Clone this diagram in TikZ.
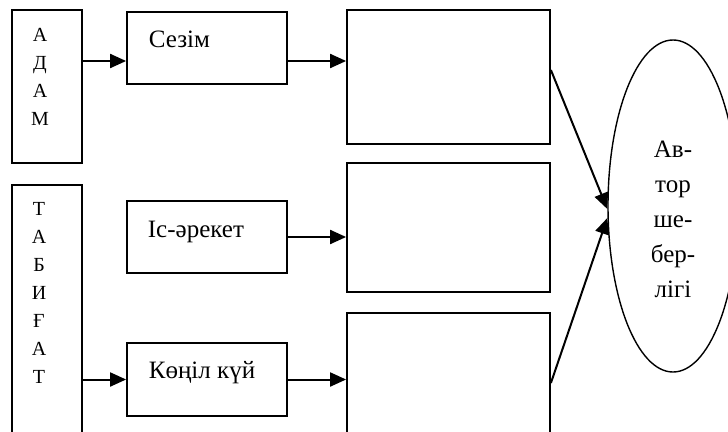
\documentclass[tikz,border=0pt]{standalone}
\usepackage{fontspec}
\setmainfont{Liberation Serif}
\usetikzlibrary{arrows.meta,shapes.geometric}
\begin{document}
\begin{tikzpicture}[x=1pt,y=-1pt,line width=1.8pt,
    arr/.style={-{Triangle[length=16pt,width=14pt]},line width=2pt},
    boxtext/.style={anchor=base west,inner sep=0pt,font=\fontsize{25}{35}\selectfont},
    colword/.style={anchor=north,inner sep=0pt,align=center,font=\fontsize{20}{28}\selectfont}]

        \useasboundingbox (0,0) rectangle (728,431);

        \begin{scope}[every node/.style={draw,rectangle,inner sep=0pt}]
          \node[minimum width=70pt,minimum height=153pt]  (adam)    at (47,86.5)   {};
          \node[minimum width=70pt,minimum height=275pt]  (tabigat) at (47,322.5)  {};
          \node[minimum width=160pt,minimum height=72pt]  (sezim)   at (207,48)    {};
          \node[minimum width=160pt,minimum height=72pt]  (is)      at (207,237)   {};
          \node[minimum width=160pt,minimum height=73pt]  (konil)   at (207,379.5) {};
          \node[minimum width=203pt,minimum height=134pt] (r1)      at (448.5,77)  {};
          \node[minimum width=203pt,minimum height=129pt] (r2)      at (448.5,227.5) {};
          \node[minimum width=203pt,minimum height=140pt] (r3)      at (448.5,383) {};
          \node[ellipse,line width=1.4pt,minimum width=130pt,minimum height=332pt] (avtor) at (673,206) {};
        \end{scope}

        % texts
        \node[colword] (adamtext)    at (40,27.4)  {А\\Д\\А\\М};
        \node[colword] (tabigattext) at (39,201.7) {Т\\А\\Б\\И\\Ғ\\А\\Т};
        \node[boxtext] (sezimtext) at (148,47)  {Сезім};
        \node[boxtext] (istext)    at (147,237) {Іс-әрекет};
        \node[boxtext] (koniltext) at (148,378) {Көңіл күй};
        \node[colword,font=\fontsize{25}{35}\selectfont] (avtortext) at (673,140.5)
          {Ав-\\тор\\ше-\\бер-\\лігі};

        \path ([yshift=-13pt]sezim.west) coordinate (a1);

        \draw[arr] (adam.east |- a1) -- (a1);
        \draw[arr] (sezim.east |- a1) -- (r1.west |- a1);
        \draw[arr] (is.east) -- (r2.west |- is.east);
        \draw[arr] (tabigat.east |- konil.west) -- (konil.west);
        \draw[arr] (konil.east) -- (r3.west |- konil.east);
        \draw[arr] ([yshift=7pt]r1.east) -- ([yshift=-3pt]avtor.west);
        \draw[arr] (r3.east) -- ([yshift=-12pt]avtor.west);

      \end{tikzpicture}
\end{document}
